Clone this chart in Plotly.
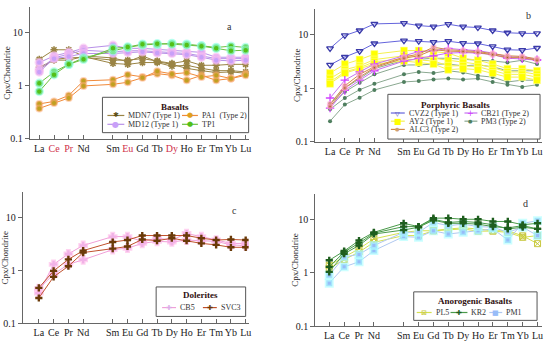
import plotly.graph_objects as go

# ---------------- data ----------------
REE_ALL = ["La", "Ce", "Pr", "Nd", "Pm", "Sm", "Eu", "Gd", "Tb", "Dy", "Ho", "Er", "Tm", "Yb", "Lu"]
ELEMENTS = ["La", "Ce", "Pr", "Nd", "Sm", "Eu", "Gd", "Tb", "Dy", "Ho", "Er", "Tm", "Yb", "Lu"]

# panel a - Basalts
MDN7_A = [3.1, 4.7, 4.7, 3.6, 3.3, 2.8, 3.6, 2.8, 2.5, 2.1, 1.9, 1.75, 1.8, 1.7]
MDN7_B = [2.2, 3.0, 3.0, 3.5, 2.6, 2.5, 2.7, 2.7, 2.3, 2.4, 2.1, 1.9, 1.9, 1.8]
MDN7_C = [2.0, 3.1, 3.3, 3.4, 3.0, 3.0, 3.2, 2.9, 2.6, 2.9, 2.4, 2.4, 2.5, 2.5]
MD12_A = [2.7, 3.6, 4.2, 5.0, 5.7, 5.0, 5.0, 4.8, 4.6, 4.3, 4.2, 3.4, 3.4, 3.4]
MD12_B = [2.0, 3.3, 3.9, 4.6, 4.3, 4.5, 4.5, 4.3, 4.2, 4.0, 3.6, 3.2, 3.2, 3.2]
MD12_C = [1.8, 3.2, 3.5, 4.0, 4.0, 4.2, 4.3, 4.1, 4.0, 3.8, 3.4, 3.0, 2.9, 3.0]
PA1_A = [0.45, 0.50, 0.65, 1.22, 1.28, 1.60, 1.45, 1.67, 1.55, 1.25, 1.55, 1.25, 1.35, 1.67]
PA1_B = [0.37, 0.47, 0.58, 0.98, 1.05, 1.15, 1.40, 1.85, 1.65, 1.74, 1.45, 1.55, 1.35, 1.55]
TP1_A = [1.1, 1.8, 2.5, 3.3, 4.5, 5.2, 5.8, 5.9, 6.2, 6.0, 5.6, 5.2, 5.5, 5.2]
TP1_B = [0.77, 1.6, 2.5, 3.1, 5.0, 5.3, 6.0, 6.1, 6.0, 5.8, 5.5, 5.0, 4.5, 4.6]

# panel b - Porphyric Basalts
CVZ2_A = [5.5, 9.6, 11.9, 15.8, 16.3, 14.7, 14.0, 15.6, 14.0, 13.5, 11.9, 10.8, 10.5, 10.5]
CVZ2_B = [2.7, 3.8, 4.9, 6.8, 7.7, 7.5, 7.2, 7.5, 6.9, 6.8, 6.0, 5.2, 5.1, 5.6]
AY2_A = [1.9, 2.8, 3.4, 4.3, 5.0, 5.0, 4.8, 4.5, 3.6, 3.3, 2.8, 2.3, 2.3, 2.1]
AY2_B = [1.5, 2.2, 2.6, 3.4, 4.0, 3.9, 3.6, 3.3, 3.0, 2.8, 2.4, 2.0, 2.0, 1.8]
AY2_C = [1.3, 2.0, 2.4, 3.1, 3.5, 3.3, 3.2, 2.6, 2.6, 2.5, 2.1, 1.8, 1.8, 1.6]
AY2_D = [1.2, 1.9, 2.3, 2.8, 3.2, 3.0, 2.8, 2.2, 2.3, 2.2, 1.9, 1.6, 1.6, 1.4]
ALC3_A = [0.5, 1.1, 1.8, 2.5, 3.8, 4.3, 5.8, 5.2, 5.0, 4.8, 4.4, 4.0, 3.9, 3.5]
ALC3_B = [0.45, 1.0, 1.6, 2.4, 3.6, 4.0, 5.2, 4.9, 4.8, 4.6, 4.2, 3.7, 3.7, 3.3]
CB21_A = [0.65, 1.4, 2.0, 2.8, 4.0, 4.8, 5.0, 5.5, 5.2, 5.0, 4.5, 3.8, 3.8, 3.4]
CB21_B = [0.42, 0.9, 1.4, 2.1, 3.2, 3.6, 4.0, 4.5, 4.6, 4.5, 4.2, 3.6, 3.5, 3.3]
PM3_A = [0.24, 0.49, 0.66, 0.92, 1.3, 1.35, 1.45, 1.5, 1.45, 1.5, 1.3, 1.15, 1.05, 1.15]
PM3_B = [0.40, 0.65, 0.93, 1.2, 1.8, 2.0, 1.9, 2.1, 1.95, 1.7, 1.6, 1.3, 1.4, 1.4]
PM3_C = [0.45, 0.85, 1.25, 1.8, 2.7, 2.7, 2.8, 2.8, 2.6, 2.7, 2.5, 2.1, 2.1, 2.1]
PM3_D = [0.5, 1.0, 1.5, 2.3, 3.3, 3.5, 3.6, 3.6, 3.4, 3.3, 3.2, 3.0, 3.3, 2.8]

# panel c - Dolerites
CB5_A = [0.37, 1.29, 2.03, 2.93, 4.3, 4.3, 3.5, 4.0, 3.7, 4.9, 4.3, 3.7, 3.2, 3.2]
CB5_B = [0.45, 0.84, 1.29, 1.57, 2.44, 2.6, 3.2, 3.5, 3.4, 3.7, 3.6, 3.5, 3.0, 2.9]
SVC3_A = [0.465, 0.97, 1.6, 2.34, 3.4, 3.7, 4.5, 4.5, 4.5, 4.5, 4.0, 3.7, 3.8, 3.7]
SVC3_B = [0.30, 0.75, 1.19, 2.15, 2.55, 2.8, 3.8, 3.6, 4.0, 3.6, 3.2, 3.0, 2.7, 2.7]

# panel d - Anorogenic Basalts
PL5_A = [1.38, 1.97, 2.8, 4.3, 5.7, 6.1, 6.1, 6.6, 6.9, 6.6, 6.1, 6.1, 4.9, 3.5]
PL5_B = [1.2, 1.76, 2.44, 3.7, 4.95, 4.95, 6.1, 6.3, 6.6, 6.0, 6.0, 5.7, 4.6, 4.95]
KR2_A = [1.71, 2.55, 4.0, 5.7, 8.4, 7.3, 10.5, 10.5, 10.0, 10.0, 9.1, 9.1, 7.9, 8.4]
KR2_B = [1.29, 2.44, 3.58, 5.5, 7.3, 7.3, 10.0, 8.7, 9.1, 8.7, 7.9, 6.6, 7.1, 6.6]
KR2_C = [1.04, 2.27, 3.24, 5.3, 6.3, 7.1, 9.6, 8.4, 8.4, 8.1, 7.3, 6.9, 7.6, 6.6]
PM1_A = [0.64, 1.29, 1.6, 2.6, 4.75, 4.6, 6.1, 5.3, 5.7, 6.1, 6.6, 4.1, 8.4, 9.4]
PM1_B = [0.9, 1.97, 2.2, 3.24, 5.7, 5.7, 8.7, 7.6, 8.1, 7.3, 7.1, 5.7, 7.1, 4.95]

# ---------------- figure ----------------
W, H = 550, 347
FONT = "Liberation Serif, Times New Roman, serif"
SYMFONT = "DejaVu Sans"
X = [REE_ALL.index(e) for e in ELEMENTS]


def px_x(p):
    return p / W


def px_y(p):
    return 1 - p / H


fig = go.Figure()

PANELS = {
    "a": ("x", "y", (30, 250), (7, 141), (-0.64, 14.2)),
    "b": ("x2", "y2", (317, 545), (9, 144), (-1.0, 14.34)),
    "c": ("x3", "y3", (23, 250), (195, 329), (-1.08, 14.2)),
    "d": ("x4", "y4", (317, 545), (197, 332), (-0.94, 14.3)),
}


def add_group(panel, name, series, line_color, marker):
    xa, ya = PANELS[panel][0], PANELS[panel][1]
    for vals in series:
        fig.add_trace(go.Scatter(
            x=X, y=vals, mode="lines+markers", name=name,
            xaxis=xa, yaxis=ya, showlegend=False,
            line=dict(color=line_color, width=1),
            marker=marker, hoverinfo="skip",
        ))


STY = {
    "MDN7": ("#9a8444", dict(symbol="asterisk-open", size=6, line=dict(color="#5c4d14", width=1.6)), "✱", "#5c4d14", 7),
    "PA1": ("#f08a3a", dict(symbol="circle", size=6, color="#c0a020", line=dict(color="rgba(255,170,120,0.5)", width=2)), "●", "#e0a020", 7),
    "MD12": ("#b890e8", dict(symbol="circle", size=7, color="#c8a0f8", line=dict(color="rgba(250,190,240,0.6)", width=2.5)), "●", "#c8a0f8", 8),
    "TP1": ("#6cc040", dict(symbol="circle", size=7, color="#52c018", line=dict(color="rgba(150,255,230,0.6)", width=2.5)), "●", "#52c018", 7),
    "CVZ2": ("#6464dc", dict(symbol="triangle-down-open", size=6, color="#3a3aa8", line=dict(width=1.3)), "▽", "#3a3aa8", 6),
    "CB21": ("#c870f0", dict(symbol="cross-thin-open", size=6, color="#d040ff", line=dict(width=1.3, color="#d040ff")), "+", "#d040ff", 8),
    "AY2": ("#f4f050", dict(symbol="square", size=7, color="#ffff00", line=dict(color="rgba(255,255,150,0.6)", width=1)), "■", "#ffff00", 8),
    "PM3": ("#8aa890", dict(symbol="circle", size=4, color="#4f7f5f"), "●", "#4f7f5f", 5),
    "ALC3": ("#d08848", dict(symbol="circle", size=4, color="#a86020", line=dict(color="rgba(255,170,210,0.6)", width=2.5)), "●", "#d0a070", 5),
    "CB5": ("#f0a0d8", dict(symbol="cross", size=6, color="#dcaee8", line=dict(color="rgba(255,180,230,0.6)", width=2.5)), "✚", "#dcaee8", 7),
    "SVC3": ("#c0502c", dict(symbol="cross", size=6, color="#6a3a08"), "✚", "#6a3a08", 7),
    "PL5": ("#d4e050", dict(symbol="square-x-open", size=6, color="#c8c840", line=dict(width=1)), "⊠", "#c8c840", 7),
    "KR2": ("#4a9a4a", dict(symbol="cross", size=6, color="#1e5e1e"), "✚", "#1e5e1e", 7),
    "PM1": ("#b0c8f0", dict(symbol="square", size=6, color="#98bcf8", line=dict(color="rgba(170,255,255,0.6)", width=3)), "■", "#98bcf8", 7),
}

GROUPS = [
    ("a", "MDN7", [MDN7_A, MDN7_B, MDN7_C]),
    ("a", "PA1", [PA1_A, PA1_B]),
    ("a", "MD12", [MD12_A, MD12_B, MD12_C]),
    ("a", "TP1", [TP1_A, TP1_B]),
    ("b", "PM3", [PM3_A, PM3_B, PM3_C, PM3_D]),
    ("b", "AY2", [AY2_A, AY2_B, AY2_C, AY2_D]),
    ("b", "CB21", [CB21_A, CB21_B]),
    ("b", "ALC3", [ALC3_A, ALC3_B]),
    ("b", "CVZ2", [CVZ2_A, CVZ2_B]),
    ("c", "CB5", [CB5_A, CB5_B]),
    ("c", "SVC3", [SVC3_A, SVC3_B]),
    ("d", "PL5", [PL5_A, PL5_B]),
    ("d", "PM1", [PM1_A, PM1_B]),
    ("d", "KR2", [KR2_A, KR2_B, KR2_C]),
]
for panel, key, series in GROUPS:
    add_group(panel, key, series, STY[key][0], STY[key][1])

# axes
AX_COL = "#666666"
RED_TICKS = {"Ce", "Pr", "Eu", "Dy"}
layout = dict(
    width=W, height=H, margin=dict(l=0, r=0, t=0, b=0),
    paper_bgcolor="white", plot_bgcolor="white", showlegend=False,
    font=dict(family=FONT, color="#222"),
)
for key, (xa, ya, xd, yd, xr) in PANELS.items():
    xname = "xaxis" + xa[1:]
    yname = "yaxis" + ya[1:]
    if key == "a":
        ttext = ["<span style='color:#d0304a'>%s</span>" % e if e in RED_TICKS else e for e in ELEMENTS]
    else:
        ttext = ELEMENTS
    layout[xname] = dict(
        domain=[px_x(xd[0]), px_x(xd[1])], range=list(xr), anchor=ya,
        tickmode="array", tickvals=X, ticktext=ttext, tickangle=0,
        showgrid=False, zeroline=False, showline=True, linecolor=AX_COL, linewidth=1,
        ticks="inside", ticklen=4, tickcolor=AX_COL,
        tickfont=dict(family=FONT, size=10, color="#222"),
    )
    layout[yname] = dict(
        domain=[px_y(yd[1]), px_y(yd[0])], type="log", range=[-1, 1.48], anchor=xa,
        tickmode="array", tickvals=[0.1, 1, 10], ticktext=["0.1", "1", "10"],
        showgrid=False, zeroline=False, showline=True, linecolor=AX_COL, linewidth=1,
        ticks="outside", ticklen=4, tickcolor=AX_COL,
        tickfont=dict(family=FONT, size=10, color="#222"),
    )
fig.update_layout(**layout)

# ---------------- hand-built legends (compact, like the original) ----------------
LEGENDS = [
    ((103, 99, 250, 135), "Basalts", (176, 108.5), [
        ("MDN7", "MDN7 (Type 1)", 108, 125, 117.5),
        ("PA1", "PA1  (Type 2)", 183, 199, 117.5),
        ("MD12", "MD12 (Type 1)", 108, 125, 126.5),
        ("TP1", "TP1", 183, 199, 126.5),
    ]),
    ((390, 96, 543, 141.5), "Porphyric Basalts", (458, 107), [
        ("CVZ2", "CVZ2 (Type 1)", 393, 407, 115),
        ("AY2", "AY2 (Type 1)", 393, 407, 123.3),
        ("ALC3", "ALC3 (Type 2)", 393, 407, 131.7),
        ("CB21", "CB21 (Type 2)", 467, 480, 115),
        ("PM3", "PM3 (Type 2)", 467, 480, 123.3),
    ]),
    ((157, 292, 247, 322), "Dolerites", (202, 300.5), [
        ("CB5", "CB5", 163, 177, 313),
        ("SVC3", "SVC3", 204, 218, 313),
    ]),
    ((416, 297, 540, 326), "Anorogenic Basalts", (478, 306), [
        ("PL5", "PL5", 419, 434, 318),
        ("KR2", "KR2", 453, 470, 318),
        ("PM1", "PM1", 492, 505, 318),
    ]),
]
for (bx0, by0, bx1, by1), title, (tx, ty), entries in LEGENDS:
    fig.add_shape(type="rect", xref="paper", yref="paper",
                  x0=px_x(bx0), x1=px_x(bx1), y0=px_y(by1), y1=px_y(by0),
                  line=dict(color="#555", width=1), fillcolor="white", layer="above")
    fig.add_annotation(text="<b>%s</b>" % title, x=px_x(tx), y=px_y(ty), xref="paper", yref="paper",
                       showarrow=False, xanchor="center", yanchor="middle",
                       font=dict(family=FONT, size=9, color="#301010"))
    for key, label, lx0, lx1, ly in entries:
        lcol, _, glyph, gcol, gsize = STY[key]
        fig.add_shape(type="line", xref="paper", yref="paper",
                      x0=px_x(lx0), x1=px_x(lx1), y0=px_y(ly), y1=px_y(ly),
                      line=dict(color=lcol, width=1.2), layer="above")
        fig.add_annotation(text=glyph, x=px_x((lx0 + lx1) / 2), y=px_y(ly), xref="paper", yref="paper",
                           showarrow=False, xanchor="center", yanchor="middle",
                           font=dict(family=SYMFONT, size=gsize, color=gcol))
        fig.add_annotation(text=label, x=px_x(lx1 + 2), y=px_y(ly), xref="paper", yref="paper",
                           showarrow=False, xanchor="left", yanchor="middle",
                           font=dict(family=FONT, size=8, color="#333"))

# y-axis titles and panel letters
for xp, yp in [(7, 74), (298, 76), (6, 262), (297, 264)]:
    fig.add_annotation(text="Cpx/Chondrite", x=px_x(xp), y=px_y(yp), xref="paper", yref="paper",
                       textangle=-90, showarrow=False, xanchor="center", yanchor="middle",
                       font=dict(family=FONT, size=9, color="#222"))
for letter, xp, yp in [("a", 231, 27), ("b", 531, 16), ("c", 236, 214), ("d", 528, 207)]:
    fig.add_annotation(text=letter, x=px_x(xp), y=px_y(yp), xref="paper", yref="paper",
                       showarrow=False, xanchor="center", yanchor="middle",
                       font=dict(family=FONT, size=10, color="#333"))

fig.write_html("out.html", config={"displayModeBar": False},
               post_script="document.body.style.margin='0px';")
